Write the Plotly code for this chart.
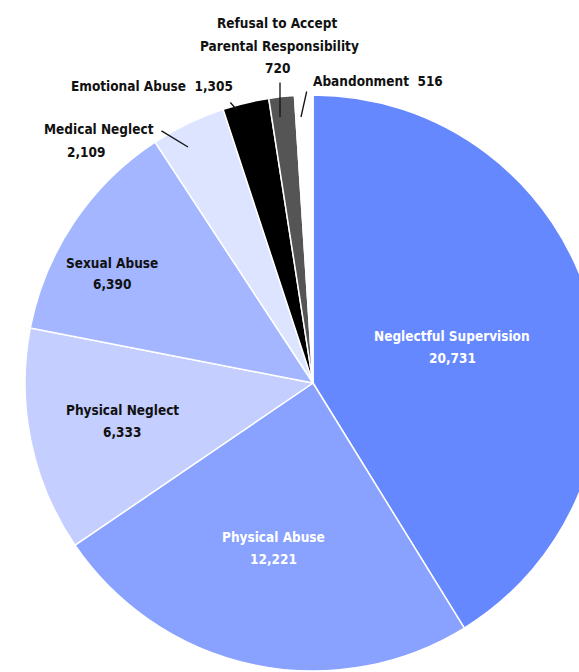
import plotly.graph_objects as go

categories = ["Neglectful Supervision", "Physical Abuse", "Physical Neglect", "Sexual Abuse",
              "Medical Neglect", "Emotional Abuse", "Refusal to Accept Parental Responsibility",
              "Abandonment"]
values = [20731, 12221, 6333, 6390, 2109, 1305, 720, 516]
value_labels = ["20,731", "12,221", "6,333", "6,390", "2,109", "1,305", "720", "516"]
colors = ["#6688FF", "#89A1FF", "#C4CEFF", "#A3B6FF", "#DDE4FF", "#000000", "#555555", "#FFFFFF"]

W, H = 640, 780
CX, CY, R = 313, 383, 288

def px(x):
    return x / W

def py(y):
    return 1 - y / H

fig = go.Figure(go.Pie(
    labels=categories, values=values, sort=False, direction="clockwise", rotation=0,
    marker=dict(colors=colors, line=dict(color="white", width=1.5)),
    textinfo="none", hoverinfo="label+value", showlegend=False,
    domain=dict(x=[(CX - R) / W, (CX + R) / W], y=[py(CY + R), py(CY - R)]),
))

FONT = "DejaVu Sans Condensed"
ann = []

def label(text, x, y, color="#111111", size=13.5, anchor="center"):
    ann.append(dict(text=text, x=px(x), y=py(y), xref="paper", yref="paper",
                    showarrow=False,
                    font=dict(family=FONT, size=size, color=color, weight="bold"),
                    xanchor=anchor, yanchor="middle"))

def leader(x0, y0, x1, y1):
    ann.append(dict(text="", x=px(x1), y=py(y1), xref="paper", yref="paper",
                    ax=x0 - x1, ay=y0 - y1, axref="pixel", ayref="pixel",
                    showarrow=True, arrowhead=0, arrowwidth=1.3, arrowcolor="#111111",
                    standoff=0, startstandoff=0))

label(categories[0], 452, 336, "white")
label(value_labels[0], 452, 358, "white")
label(categories[1], 273, 537, "white")
label(value_labels[1], 273, 559, "white")
label(categories[2], 122, 410)
label(value_labels[2], 122, 432)
label(categories[3], 112, 263)
label(value_labels[3], 112, 284)
label(categories[4], 156, 129, anchor="right")
label(value_labels[4], 86, 152)
leader(160, 130, 188, 147)
label(categories[5] + "&nbsp;&nbsp;" + value_labels[5], 235, 86, anchor="right")
leader(229, 101, 237, 110)
label("Refusal to Accept", 277, 23)
label("Parental Responsibility", 279, 46)
label(value_labels[6], 277, 68)
leader(280, 81, 280, 117)
label(categories[7] + "&nbsp;&nbsp;" + value_labels[7], 311, 81, anchor="left")
leader(307, 90, 301, 117)

fig.update_layout(width=W, height=H, margin=dict(l=0, r=0, t=0, b=0),
                  paper_bgcolor="white", plot_bgcolor="white", annotations=ann)

fig.write_html("out.html", post_script=(
    "document.body.style.margin='0';document.body.style.overflow='hidden';"
    "document.documentElement.style.overflow='hidden';"))
